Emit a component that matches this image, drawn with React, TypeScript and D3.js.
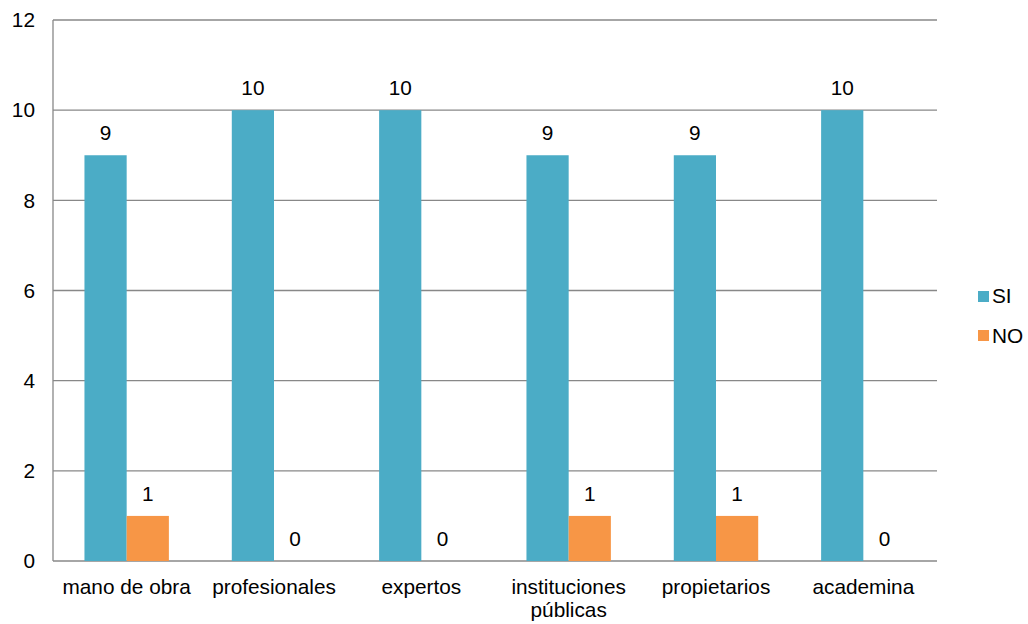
import React from "react";
import * as d3 from "d3";

const categories = ["mano de obra", "profesionales", "expertos", "instituciones públicas", "propietarios", "academina"];
const categoryLines = [["mano de obra"], ["profesionales"], ["expertos"], ["instituciones", "públicas"], ["propietarios"], ["academina"]];
const seriesNames = ["SI", "NO"];
const siValues = [9, 10, 10, 9, 9, 10];
const noValues = [1, 0, 0, 1, 1, 0];
const yTicks = [0, 2, 4, 6, 8, 10, 12];
const colors = ["#4BACC6", "#F79646"];

export default function App() {
  const W = 1028, H = 624;
  const left = 53, right = 937, top = 20, bottom = 561;
  const x0 = d3.scaleBand<string>().domain(categories).range([left, right]).padding(0);
  const barW = x0.bandwidth() * 0.2865;
  const x1 = d3.scaleBand<string>().domain(seriesNames).range([-barW, barW]).padding(0);
  const y = d3.scaleLinear().domain([0, 12]).range([bottom, top]);
  const series = [siValues, noValues];
  const font = "'Liberation Sans', Arial, sans-serif";
  const fs = 20.8;

  return (
    <svg width={W} height={H} style={{ position: "absolute", left: 0, top: 0, background: "#fff" }} fontFamily={font}>
      {yTicks.map((t) => (
        <g key={t}>
          <line x1={left} x2={right} y1={y(t)} y2={y(t)} stroke="#888888" strokeWidth={1.3} />
          <text x={35} y={y(t)} dy="0.35em" textAnchor="end" fontSize={fs} fill="#000">{t}</text>
        </g>
      ))}
      <line x1={left} x2={left} y1={top} y2={bottom} stroke="#888888" strokeWidth={1.3} />
      {categories.map((c, i) => (
        <g key={c}>
          {series.map((vals, s) => {
            const xs = x0(c)! + x0.bandwidth() / 2 + x1(seriesNames[s])!;
            const v = vals[i];
            return (
              <g key={s}>
                {v > 0 && (
                  <rect x={xs} y={y(v)} width={x1.bandwidth()} height={y(0) - y(v)} fill={colors[s]} />
                )}
                <text x={xs + x1.bandwidth() / 2} y={y(v) - 15} textAnchor="middle" fontSize={fs} fill="#000">{v}</text>
              </g>
            );
          })}
          {categoryLines[i].map((ln, k) => (
            <text key={k} x={x0(c)! + x0.bandwidth() / 2} y={594 + k * 23} textAnchor="middle" fontSize={fs} fill="#000">{ln}</text>
          ))}
        </g>
      ))}
      {seriesNames.map((n, s) => (
        <g key={n}>
          <rect x={978} y={291 + s * 39} width={11} height={11} fill={colors[s]} />
          <text x={992} y={303 + s * 40} fontSize={fs} fill="#000">{n}</text>
        </g>
      ))}
    </svg>
  );
}
